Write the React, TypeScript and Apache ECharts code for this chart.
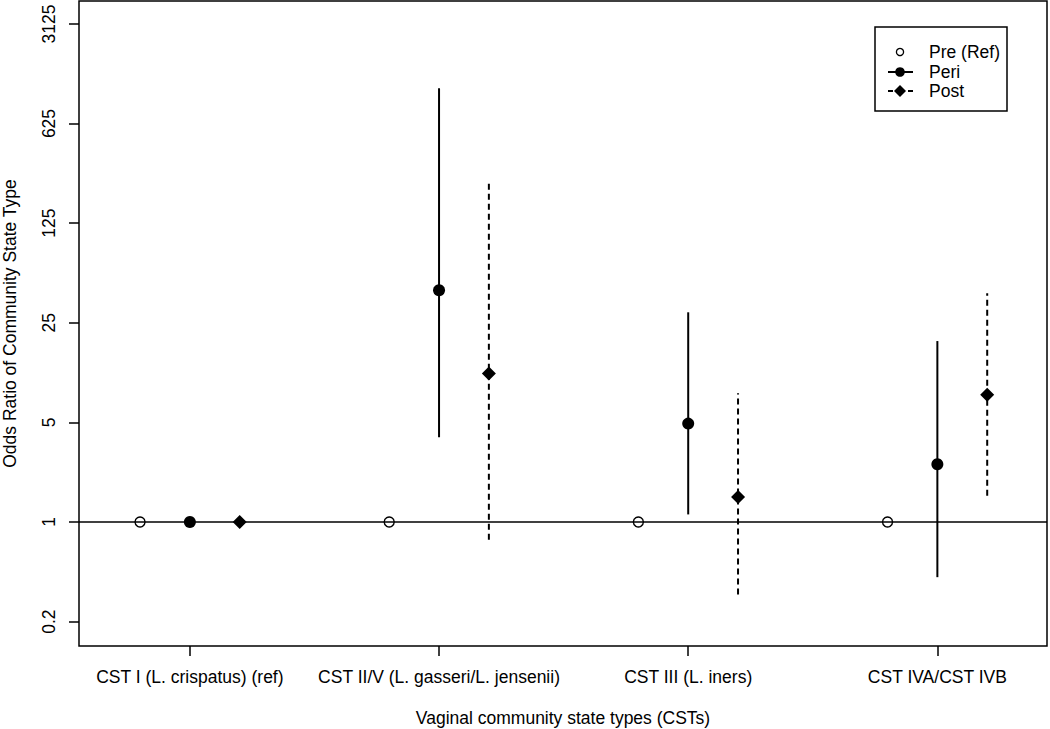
import React, { useEffect, useRef } from "react";
import * as echarts from "echarts";

const categories = [
  "CST I (L. crispatus) (ref)",
  "CST II/V (L. gasseri/L. jensenii)",
  "CST III (L. iners)",
  "CST IVA/CST IVB",
];
const preOR = [1, 1, 1, 1];
const periOR = [1, 42.3, 4.9, 2.54];
const periLower = [null, 3.93, 1.13, 0.41];
const periUpper = [null, 1105, 29.6, 18.6];
const postOR = [1, 11.0, 1.5, 7.8];
const postLower = [null, 0.75, 0.31, 1.53];
const postUpper = [null, 248, 8.0, 40.3];
const yTickValues = [0.2, 1, 5, 25, 125, 625, 3125];
const yTickLabels = ["0.2", "1", "5", "25", "125", "625", "3125"];
const refLineOR = 1;

const FONT = '"Liberation Sans", Arial, Helvetica, sans-serif';
const log5 = (v: number) => Math.log(v) / Math.log(5);
const OFFSET = { pre: -0.2, peri: 0, post: 0.2 };

function pointData(vals: number[], off: number) {
  return vals.map((v, i) => [i + 1 + off, log5(v)]);
}
function barData(lo: (number | null)[], hi: (number | null)[], off: number) {
  const out: number[][] = [];
  lo.forEach((l, i) => {
    const h = hi[i];
    if (l != null && h != null) out.push([i + 1 + off, log5(l), log5(h)]);
  });
  return out;
}

function errorBarSeries(data: number[][], dashed: boolean) {
  return {
    type: "custom",
    data,
    encode: { x: 0, y: [1, 2] },
    silent: true,
    z: 2,
    renderItem: (params: any, api: any) => {
      const a = api.coord([api.value(0), api.value(1)]);
      const b = api.coord([api.value(0), api.value(2)]);
      return {
        type: "line",
        shape: { x1: a[0], y1: a[1], x2: b[0], y2: b[1] },
        style: {
          stroke: "#000",
          lineWidth: 2,
          lineDash: dashed ? [6, 4] : null,
        },
      };
    },
  };
}

export default function App() {
  const ref = useRef<HTMLDivElement>(null);
  useEffect(() => {
    if (!ref.current) return;
    const chart = echarts.init(ref.current, null, { renderer: "svg" });
    const yTickPos = yTickValues.map(log5);
    const legendX = 888;
    const option: any = {
      animation: false,
      backgroundColor: "#fff",
      textStyle: { fontFamily: FONT },
      grid: {
        left: 79,
        right: 3,
        top: 1,
        bottom: 83,
        show: true,
        borderColor: "#000",
        borderWidth: 1.5,
        backgroundColor: "transparent",
        outerBoundsMode: "none",
      },
      xAxis: {
        type: "value",
        min: 0.555,
        max: 4.44,
        splitLine: { show: false },
        axisLine: { show: false, onZero: false },
        axisTick: {
          show: true,
          length: 10,
          customValues: [1, 2, 3, 4],
          lineStyle: { color: "#000", width: 1.5 },
        },
        axisLabel: {
          customValues: [1, 2, 3, 4],
          formatter: (v: number) => categories[Math.round(v) - 1] ?? "",
          color: "#000",
          fontSize: 17.5,
          fontFamily: FONT,
          margin: 22,
          hideOverlap: false,
        },
        name: "Vaginal community state types (CSTs)",
        nameLocation: "middle",
        nameGap: 63,
        nameTextStyle: { color: "#000", fontSize: 17.5, fontFamily: FONT },
      },
      yAxis: {
        type: "value",
        min: -1.245,
        max: 5.23,
        splitLine: { show: false },
        axisLine: { show: false, onZero: false },
        axisTick: {
          show: true,
          length: 10,
          customValues: yTickPos,
          lineStyle: { color: "#000", width: 1.5 },
        },
        axisLabel: {
          customValues: yTickPos,
          formatter: (v: number) => {
            const idx = yTickPos.findIndex((p) => Math.abs(p - v) < 1e-6);
            return idx >= 0 ? yTickLabels[idx] : "";
          },
          rotate: 90,
          color: "#000",
          fontSize: 17.5,
          fontFamily: FONT,
          margin: 21,
          hideOverlap: false,
        },
        name: "Odds Ratio of Community State Type",
        nameLocation: "middle",
        nameRotate: 90,
        nameGap: 60,
        nameTextStyle: { color: "#000", fontSize: 17.5, fontFamily: FONT },
      },
      series: [
        errorBarSeries(barData(periLower, periUpper, OFFSET.peri), false),
        errorBarSeries(barData(postLower, postUpper, OFFSET.post), true),
        {
          type: "scatter",
          name: "Pre (Ref)",
          data: pointData(preOR, OFFSET.pre),
          symbol: "circle",
          symbolSize: 10,
          z: 3,
          itemStyle: { color: "transparent", borderColor: "#000", borderWidth: 1.4, opacity: 1 },
          markLine: {
            silent: true,
            symbol: ["none", "none"],
            label: { show: false },
            lineStyle: { color: "#000", width: 1.5, type: "solid", opacity: 1 },
            data: [{ yAxis: log5(refLineOR) }],
            z: 1,
          },
        },
        {
          type: "scatter",
          name: "Peri",
          data: pointData(periOR, OFFSET.peri),
          symbol: "circle",
          symbolSize: 12,
          z: 3,
          itemStyle: { color: "#000", opacity: 1 },
        },
        {
          type: "scatter",
          name: "Post",
          data: pointData(postOR, OFFSET.post),
          symbol: "diamond",
          symbolSize: 14,
          z: 3,
          itemStyle: { color: "#000", opacity: 1 },
        },
      ],
      graphic: [
        {
          type: "rect",
          shape: { x: 875, y: 27, width: 132, height: 84 },
          style: { fill: "#fff", stroke: "#000", lineWidth: 1.5 },
          z: 10,
        },
        {
          type: "circle",
          shape: { cx: 900, cy: 52, r: 3.6 },
          style: { fill: "none", stroke: "#000", lineWidth: 1.3 },
          z: 11,
        },
        {
          type: "line",
          shape: { x1: legendX, y1: 72, x2: legendX + 25, y2: 72 },
          style: { stroke: "#000", lineWidth: 2 },
          z: 11,
        },
        {
          type: "circle",
          shape: { cx: 900, cy: 72, r: 4.8 },
          style: { fill: "#000" },
          z: 11,
        },
        {
          type: "line",
          shape: { x1: legendX, y1: 91, x2: legendX + 25, y2: 91 },
          style: { stroke: "#000", lineWidth: 2, lineDash: [5, 15] },
          z: 11,
        },
        {
          type: "polygon",
          shape: { points: [[900, 85], [906, 91], [900, 97], [894, 91]] },
          style: { fill: "#000" },
          z: 11,
        },
        {
          type: "text",
          x: 929,
          y: 52,
          style: { text: "Pre (Ref)", fill: "#000", font: `17.5px ${FONT}`, verticalAlign: "middle" },
          z: 11,
        },
        {
          type: "text",
          x: 929,
          y: 72,
          style: { text: "Peri", fill: "#000", font: `17.5px ${FONT}`, verticalAlign: "middle" },
          z: 11,
        },
        {
          type: "text",
          x: 929,
          y: 91,
          style: { text: "Post", fill: "#000", font: `17.5px ${FONT}`, verticalAlign: "middle" },
          z: 11,
        },
      ],
    };
    chart.setOption(option);
    return () => chart.dispose();
  }, []);
  return (
    <div
      ref={ref}
      style={{ position: "absolute", left: 0, top: 0, width: 1050, height: 729, background: "#fff" }}
    />
  );
}
